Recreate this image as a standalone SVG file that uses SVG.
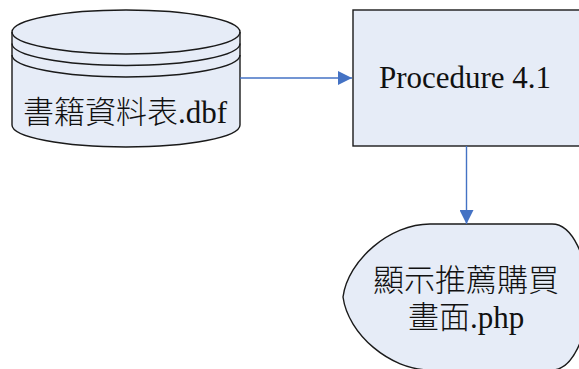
<svg xmlns="http://www.w3.org/2000/svg" width="579" height="369" viewBox="0 0 579 369">
<defs>
<style>
.shape{fill:#E6ECF7;stroke:#1a1a1a;stroke-width:1.4}
.line{fill:none;stroke:#1a1a1a;stroke-width:1.4}
.conn{fill:none;stroke:#4472C4;stroke-width:1.4}
.t{font-family:"Liberation Serif",serif;font-size:31px;fill:#111}
.cjk{font-family:"Noto Sans CJK TC",sans-serif;font-size:31px;font-weight:300;fill:#111}
</style>
<marker id="arr" viewBox="0 0 14 14" refX="14" refY="7" markerWidth="14" markerHeight="14" markerUnits="userSpaceOnUse" orient="auto">
<path d="M0,0 L14,7 L0,14 Z" fill="#4472C4"/>
</marker>
</defs>
<rect width="579" height="369" fill="#fff"/>
<g id="db">
<path class="shape" d="M12,32 A114,22 0 0 1 240,32 L240,125 A114,22 0 0 1 12,125 Z"/>
<path class="line" d="M12,32 A114,22 0 0 0 240,32"/>
<path class="line" d="M12,43.5 A114,22 0 0 0 240,43.5"/>
<path class="line" d="M12,55 A114,22 0 0 0 240,55"/>
<text class="cjk" x="23" y="123">書籍資料表</text>
<text class="t" x="178" y="123">.dbf</text>
</g>
<g id="proc">
<rect class="shape" x="353" y="10" width="240" height="136"/>
<text class="t" x="465" y="88" text-anchor="middle">Procedure 4.1</text>
</g>
<g id="display">
<path class="shape" d="M343,297 C348,260 390,224 430,224 L552,224 A36,73 0 0 1 552,370 L430,370 C390,370 348,334 343,297 Z"/>
<text class="cjk" x="466" y="291" text-anchor="middle">顯示推薦購買</text>
<text class="cjk" x="408" y="328">畫面</text>
<text class="t" x="470" y="328">.php</text>
</g>
<g id="connectors">
<path class="conn" d="M240,78 L352,78" marker-end="url(#arr)"/>
<path class="conn" d="M466.5,146 L466.5,224" marker-end="url(#arr)"/>
</g>
</svg>
